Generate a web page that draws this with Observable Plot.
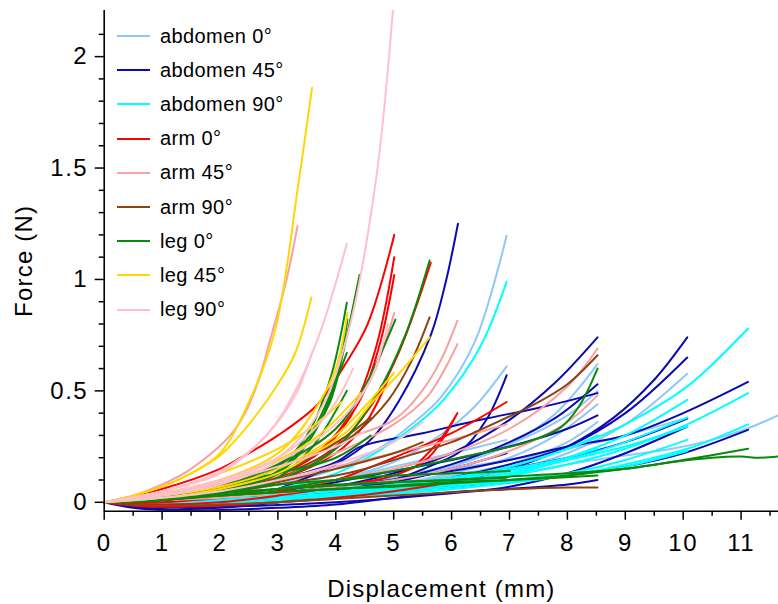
<!DOCTYPE html>
<html>
<head>
<meta charset="utf-8">
<script src="https://cdn.jsdelivr.net/npm/d3@7"></script>
<script src="https://cdn.jsdelivr.net/npm/@observablehq/plot@0.6"></script>
<style>
  html, body { margin: 0; padding: 0; background: #fff; }
  #wrap { position: relative; width: 778px; height: 604px; font-family: "Liberation Sans", Arial, sans-serif; }
  #legend { position: absolute; left: 117px; top: 19px; }
  .row { display: flex; align-items: center; height: 34.2px; }
  .sw { width: 33px; height: 2px; margin-right: 10px; }
  .lab { font-size: 20px; color: #000; letter-spacing: 0.4px; }
  #chart svg g[aria-label="x-axis tick label"] text,
  #chart svg g[aria-label="y-axis tick label"] text { letter-spacing: 1.5px; }
  #chart svg g[aria-label="x-axis label"] text,
  #chart svg g[aria-label="y-axis label"] text { letter-spacing: 1.2px; }
</style>
</head>
<body>
<div id="wrap"><div id="chart"></div><div id="legend"></div></div>
<script>
// ---- series names and colours ----
const groups = ["abdomen 0°", "abdomen 45°", "abdomen 90°", "arm 0°", "arm 45°", "arm 90°", "leg 0°", "leg 45°", "leg 90°"];
const colors = ["#8EC8F8", "#0A0AB0", "#00FFFF", "#FF0000", "#F9A0A0", "#8B4513", "#0A8A0A", "#FFD700", "#FFC0CB"];

// ---- curves: each curve is a list of [displacement mm, force N] ----
const abdomen0 = [
  [[0,0],[1,0.01],[2,0.04],[3,0.08],[4,0.15],[4.8,0.25],[5.4,0.37],[5.81,0.47],[6.4,0.72],[6.95,1.196]],
  [[0,0],[1,0.0],[2,0.02],[3,0.05],[4,0.1],[5,0.18],[5.8,0.3],[6.4,0.43],[6.95,0.61]],
  [[0,0],[1,-0.01],[2,0.0],[3,0.03],[4,0.06],[5,0.1],[6,0.16],[7,0.26],[7.8,0.4],[8.52,0.62]],
  [[0,0],[1,-0.01],[2,0.0],[3,0.02],[4,0.05],[5,0.08],[6,0.13],[7,0.2],[7.8,0.3],[8.52,0.44]],
  [[0,0],[1,0.0],[2,0.01],[3,0.03],[4,0.05],[5,0.08],[6,0.12],[7,0.17],[8,0.24],[8.52,0.30]],
  [[0,0],[1,0.0],[2,0.01],[4,0.04],[6,0.09],[7,0.14],[8,0.22],[9,0.35],[10.07,0.577]],
  [[0,0],[1,0.0],[2,0.01],[4,0.04],[6,0.08],[7,0.12],[8,0.17],[9,0.21],[9.8,0.24],[10.5,0.28],[11.1,0.33],[11.64,0.39]],
  [[0,0],[1,0.0],[2,0.02],[3,0.05],[4,0.1],[5,0.16],[6,0.22],[6.95,0.28]],
  [[0,0],[1,0.0],[2,0.01],[4,0.05],[6,0.11],[7,0.17],[8,0.27],[8.52,0.36]],
  [[0,0],[1,0.0],[2,0.02],[3,0.04],[4,0.07],[5,0.11],[6,0.17],[7,0.26],[8,0.39],[8.52,0.5]],
  [[0,0],[1,0.0],[2,0.02],[3,0.04],[4,0.07],[5,0.11],[6,0.15],[7,0.19],[8,0.24],[9,0.3],[10.07,0.38]]
];
const abdomen45 = [
  [[0,0],[0.5,-0.015],[1,-0.02],[2,-0.01],[3,0.06],[3.4,0.1],[4,0.17],[4.6,0.28],[5.08,0.45],[5.64,0.75],[5.9,0.99],[6.11,1.25]],
  [[0,0],[0.5,-0.02],[1,-0.03],[2,-0.025],[3,0.0],[4,0.04],[5,0.1],[5.7,0.17],[6.16,0.23],[6.6,0.37],[6.95,0.57]],
  [[0,0],[1,-0.01],[2,0.0],[3,0.03],[4,0.07],[5,0.13],[6,0.22],[7,0.37],[7.8,0.54],[8.52,0.74]],
  [[0,0],[1,-0.01],[2,0.0],[3,0.02],[4,0.05],[5,0.1],[6,0.17],[7,0.27],[7.8,0.38],[8.52,0.53]],
  [[0,0],[1,0.0],[2,0.02],[3,0.05],[4,0.09],[5,0.14],[6,0.19],[7,0.25],[8,0.33],[8.52,0.39]],
  [[0,0],[1,-0.01],[2,-0.01],[3,0.0],[4,0.02],[5,0.05],[6,0.09],[7,0.15],[8,0.25],[8.8,0.38],[9.5,0.55],[10.07,0.74]],
  [[0,0],[1,-0.01],[2,0.0],[3,0.02],[4,0.04],[5,0.07],[6,0.11],[7,0.17],[8,0.25],[9,0.4],[10.07,0.65]],
  [[0,0],[1,0.0],[2,0.01],[4,0.04],[6,0.1],[7,0.15],[8,0.2],[9,0.27],[10.07,0.376]],
  [[0,0],[1,-0.02],[2,-0.02],[4,0.0],[6,0.04],[7,0.07],[8,0.13],[9,0.22],[10.07,0.34]],
  [[0,0],[1,0.0],[2,0.02],[4,0.07],[6,0.14],[7,0.19],[8,0.25],[9,0.3],[10,0.4],[11.12,0.54]],
  [[0,0],[1,-0.01],[2,0.0],[4,0.03],[6,0.07],[8,0.12],[9,0.16],[10,0.22],[11.12,0.325]],
  [[0,0],[0.5,-0.025],[1,-0.035],[2,-0.035],[3,-0.025],[4,-0.01],[5,0.02],[6,0.045],[7,0.06],[8,0.08],[8.52,0.1]],
  [[0,0],[1,0.02],[2,0.05],[3,0.1],[4,0.18],[4.43,0.25],[5.5,0.31],[6.5,0.37],[7.6,0.43],[8.52,0.49]],
  [[0,0],[1,-0.01],[2,0.0],[3,0.02],[4,0.05],[5,0.09],[6,0.15],[6.95,0.22]]
];
const abdomen90 = [
  [[0,0],[1,0.0],[2,0.02],[3,0.06],[4,0.13],[4.8,0.24],[5.4,0.35],[5.86,0.46],[6.5,0.7],[6.95,0.99]],
  [[0,0],[1,-0.01],[2,0.0],[3,0.02],[4,0.04],[5,0.07],[6,0.11],[7,0.16],[8,0.24],[9,0.35],[10.07,0.52],[11.12,0.78]],
  [[0,0],[1,-0.01],[2,0.0],[4,0.03],[6,0.08],[7,0.12],[8,0.17],[9,0.24],[10.07,0.35],[11.12,0.49]],
  [[0,0],[1,-0.015],[2,-0.01],[4,0.02],[6,0.06],[8,0.12],[9,0.17],[10.07,0.24],[11.12,0.35]],
  [[0,0],[1,-0.01],[2,0.0],[4,0.03],[6,0.08],[7,0.12],[8,0.2],[9,0.3],[10.07,0.46]],
  [[0,0],[1,-0.01],[2,0.0],[4,0.04],[6,0.09],[7,0.13],[8,0.19],[9,0.27],[10.07,0.38]],
  [[0,0],[1,-0.01],[2,0.0],[4,0.03],[6,0.07],[8,0.13],[9,0.19],[10.07,0.28]],
  [[0,0],[1,-0.01],[2,0.01],[4,0.04],[6,0.1],[7,0.16],[8,0.24],[8.52,0.3]],
  [[0,0],[1,-0.015],[2,-0.01],[3,0.0],[4,0.02],[5,0.04],[6,0.06],[7,0.09],[8,0.12],[9,0.16],[10.07,0.23]],
  [[0,0],[1,-0.01],[2,0.0],[3,0.02],[4,0.04],[5,0.06],[6,0.08],[7,0.1],[8.52,0.14]],
  [[0,0],[1,0.0],[2,0.02],[3,0.04],[4,0.06],[5,0.08],[6,0.11],[7,0.15],[8,0.2],[8.52,0.24]],
  [[0,0],[1,-0.005],[2,0.01],[3,0.03],[4,0.05],[5,0.07],[6,0.1],[7,0.14],[8,0.19],[9,0.25],[10.07,0.34]]
];
const arm0 = [
  [[0,0],[1,0.06],[2,0.15],[2.36,0.2],[3,0.3],[3.69,0.44],[4.14,0.61],[4.55,0.8],[5.01,1.2]],
  [[0,0],[1,0.02],[2,0.06],[3,0.13],[3.8,0.25],[4.3,0.42],[4.7,0.7],[5.01,1.1]],
  [[0,0],[1,0.01],[2,0.05],[3,0.12],[3.8,0.24],[4.4,0.45],[4.75,0.7],[5.01,1.02]],
  [[0,0],[1,0.02],[2,0.05],[3,0.11],[4,0.25],[4.6,0.43],[5.1,0.68],[5.64,1.075]],
  [[0,0],[1,0.0],[2,0.02],[3,0.05],[4,0.1],[4.43,0.14],[5.0,0.2],[6,0.31],[6.95,0.45]],
  [[0,0],[1,-0.01],[2,0.0],[3,0.03],[4,0.07],[5,0.12],[5.6,0.2],[6.1,0.4],[5.8,0.28],[5.4,0.17]],
  [[0,0],[0.5,-0.015],[1,-0.02],[2,-0.015],[3,0.0],[4,0.02],[5,0.05],[6,0.09]],
  [[0,0],[1,0.01],[2,0.04],[3,0.1],[4,0.22],[4.5,0.35],[4.9,0.55]]
];
const arm45 = [
  [[0,0],[0.5,0.03],[1,0.08],[1.5,0.15],[2.24,0.32],[2.6,0.5],[2.91,0.77],[3.15,1.0],[3.34,1.24]],
  [[0,0],[1,0.03],[2,0.08],[3,0.15],[4,0.27],[5,0.37],[5.46,0.49],[5.8,0.63],[6.1,0.815]],
  [[0,0],[1,0.02],[2,0.06],[3,0.12],[4,0.22],[5,0.35],[5.6,0.48],[6.1,0.71]],
  [[0,0],[1,0.01],[2,0.03],[3,0.06],[4,0.1],[5,0.15],[6,0.22],[7,0.33],[8,0.52],[8.52,0.69]],
  [[0,0],[1,0.01],[2,0.02],[3,0.04],[4,0.07],[5,0.1],[6,0.15],[7,0.23],[8,0.36],[8.52,0.48]],
  [[0,0],[1,0.02],[2,0.05],[3,0.1],[4,0.16],[5,0.22],[6,0.28],[6.95,0.35]],
  [[0,0],[1,0.03],[2,0.08],[3,0.16],[4,0.33],[4.6,0.55],[5.01,0.85]]
];
const arm90 = [
  [[0,0],[1,0.02],[2,0.06],[3,0.13],[3.5,0.17],[4.3,0.3],[4.91,0.46],[5.3,0.63],[5.62,0.83]],
  [[0,0],[1,0.01],[2,0.04],[3,0.08],[4,0.12],[4.43,0.145],[5,0.19],[6,0.27],[6.45,0.32],[7.5,0.45],[8.0,0.53],[8.52,0.66]],
  [[0,0],[0.5,-0.01],[1,-0.015],[2,-0.01],[3,0.0],[4,0.015],[5,0.03],[6,0.045],[7,0.058],[8,0.066],[8.52,0.066]],
  [[0,0],[1,0.02],[2,0.06],[3,0.13],[3.7,0.22],[4.2,0.3],[4.6,0.38]],
  [[0,0],[1,0.01],[2,0.04],[3,0.09],[4,0.15],[5,0.22],[5.5,0.27]]
];
const leg0 = [
  [[0,0],[1,0.02],[2,0.07],[3,0.17],[3.5,0.28],[3.9,0.45],[4.15,0.7],[4.41,1.02]],
  [[0,0],[1,0.02],[2,0.06],[3,0.16],[3.5,0.3],[3.9,0.55],[4.19,0.895]],
  [[0,0],[1,0.01],[2,0.05],[3,0.13],[3.6,0.3],[4.0,0.55],[4.2,0.82]],
  [[0,0],[1,0.01],[2,0.05],[3,0.14],[3.6,0.32],[4.19,0.67]],
  [[0,0],[1,0.01],[2,0.04],[3,0.11],[3.6,0.25],[4.19,0.5]],
  [[0,0],[1,0.01],[2,0.04],[3,0.1],[4,0.24],[4.72,0.49],[5.2,0.75],[5.62,1.085]],
  [[0,0],[0.5,0.02],[1,0.04],[2,0.09],[3,0.17],[4,0.33],[4.5,0.52],[5.03,0.82]],
  [[0,0],[1,0.01],[2,0.03],[3,0.06],[4,0.1],[5,0.14],[5.58,0.17],[6.5,0.22],[7.3,0.27],[7.88,0.335],[8.2,0.43],[8.52,0.6]],
  [[0,0],[1,0.02],[2,0.04],[3,0.06],[4,0.075],[5,0.09],[6,0.1],[7,0.115],[8,0.13],[9,0.15],[10,0.19],[11.12,0.24]],
  [[0,0],[1,0.01],[2,0.03],[3,0.045],[4,0.06],[5,0.07],[6,0.085],[7,0.1],[8,0.12],[9,0.15],[9.8,0.18],[10.5,0.2],[11.0,0.205],[11.3,0.2],[11.64,0.205]],
  [[0,0],[1,0.02],[2,0.05],[3,0.08],[4,0.1],[5,0.12],[6,0.13],[7,0.14]],
  [[0,0],[0.5,0.02],[1,0.04],[2,0.08],[3,0.13],[4,0.2],[4.6,0.3]],
  [[0,0],[1,0.015],[2,0.03],[3,0.045],[4,0.06],[5,0.075],[6,0.09],[7,0.1],[8.52,0.12]],
  [[0,0],[1,0.02],[2,0.04],[3,0.06],[4,0.08],[5,0.09],[6,0.1],[6.95,0.11]]
];
const leg45 = [
  [[0,0],[0.5,0.03],[1,0.07],[1.5,0.13],[2,0.22],[2.5,0.45],[2.95,0.77],[3.36,1.44],[3.59,1.86]],
  [[0,0],[0.5,0.03],[1,0.07],[1.5,0.13],[2,0.21],[2.5,0.35],[3,0.53],[3.3,0.67],[3.58,0.92]],
  [[0,0],[1,0.04],[2,0.1],[3,0.22],[3.6,0.4],[4.0,0.6],[4.2,0.85]],
  [[0,0],[1,0.02],[2,0.06],[3,0.13],[3.5,0.2],[4.2,0.32],[4.63,0.45],[5.1,0.58],[5.62,0.74]],
  [[0,0],[1,0.03],[2,0.07],[3,0.15],[4,0.3],[4.5,0.43],[5.0,0.58]],
  [[0,0],[1,0.04],[2,0.1],[3,0.19],[3.7,0.3],[4.43,0.49]],
  [[0,0],[1,0.05],[2,0.13],[3,0.24],[3.5,0.32],[4.1,0.45]]
];
const leg90 = [
  [[0,0],[1,0.03],[2,0.09],[3,0.2],[3.7,0.4],[4.2,0.75],[4.69,1.44],[5.0,2.25]],
  [[0,0],[1,0.05],[2,0.14],[2.8,0.3],[3.3,0.5],[3.74,0.77],[4.19,1.16]],
  [[0,0],[1,0.05],[2,0.13],[2.8,0.3],[3.3,0.48],[3.6,0.68]],
  [[0,0],[1,0.04],[2,0.1],[3,0.2],[3.6,0.32],[4.0,0.45],[4.3,0.6]],
  [[0,0],[1,0.03],[2,0.08],[3,0.18],[4,0.35],[4.6,0.55],[4.9,0.8]],
  [[0,0],[1,0.02],[2,0.05],[3,0.1],[4,0.17],[5,0.27],[5.5,0.36]],
  [[0,0],[1,0.04],[2,0.09],[3,0.16],[4,0.25],[4.5,0.32]]
];

// ---- axis ticks ----
const xMajor = [0,1,2,3,4,5,6,7,8,9,10,11];
const xMinor = [0.5,1.5,2.5,3.5,4.5,5.5,6.5,7.5,8.5,9.5,10.5,11.5];
const yMajor = [0,0.5,1,1.5,2];
const yMinor = [0.1,0.2,0.3,0.4,0.6,0.7,0.8,0.9,1.1,1.2,1.3,1.4,1.6,1.7,1.8,1.9,2.1];
const xDomain = [0, 11.646];
const yDomain = [-0.04, 2.207];

const allSeries = [abdomen0, abdomen45, abdomen90, arm0, arm45, arm90, leg0, leg45, leg90];
const rows = [];
allSeries.forEach((curves, gi) => {
  curves.forEach((c, ci) => {
    c.forEach(([x, y], pi) => rows.push({x, y, g: groups[gi], id: gi + "-" + ci, order: pi}));
  });
});

const font = "'Liberation Sans', Arial, sans-serif";
const chart = Plot.plot({
  width: 778,
  height: 604,
  marginLeft: 103.7,
  marginRight: 0,
  marginTop: 10,
  marginBottom: 93.3,
  style: {fontFamily: font, fontSize: "24px", color: "#000", background: "#fff"},
  x: {domain: xDomain},
  y: {domain: yDomain},
  color: {domain: groups, range: colors},
  marks: [
    Plot.line(rows, {x: "x", y: "y", z: "id", stroke: "g", strokeWidth: 2, curve: "catmull-rom", clip: true}),
    Plot.ruleX([xDomain[0]], {stroke: "#000", strokeWidth: 1.6}),
    Plot.ruleY([yDomain[0]], {stroke: "#000", strokeWidth: 1.6}),
    Plot.axisX({ticks: xMajor, tickSize: 9, tickPadding: 14, tickFormat: d => String(d), fontSize: 24,
      label: "Displacement (mm)", labelAnchor: "center", labelArrow: "none", labelOffset: 86, strokeWidth: 1.5}),
    Plot.axisX({ticks: xMinor, tickSize: 5, tickFormat: () => "", label: null, strokeWidth: 1.5}),
    Plot.axisY({ticks: yMajor, tickSize: 9, tickPadding: 7, tickFormat: d => String(d), fontSize: 24,
      label: "Force (N)", labelAnchor: "center", labelArrow: "none", labelOffset: 89, strokeWidth: 1.5}),
    Plot.axisY({ticks: yMinor, tickSize: 5, tickFormat: () => "", label: null, strokeWidth: 1.5})
  ]
});
document.getElementById("chart").appendChild(chart);

// ---- legend (HTML overlay, inside the plot area as in the original) ----
const legend = document.getElementById("legend");
groups.forEach((g, i) => {
  const row = document.createElement("div");
  row.className = "row";
  const sw = document.createElement("div");
  sw.className = "sw";
  sw.style.background = colors[i];
  const lab = document.createElement("span");
  lab.className = "lab";
  lab.textContent = g;
  row.appendChild(sw);
  row.appendChild(lab);
  legend.appendChild(row);
});
</script>
</body>
</html>
